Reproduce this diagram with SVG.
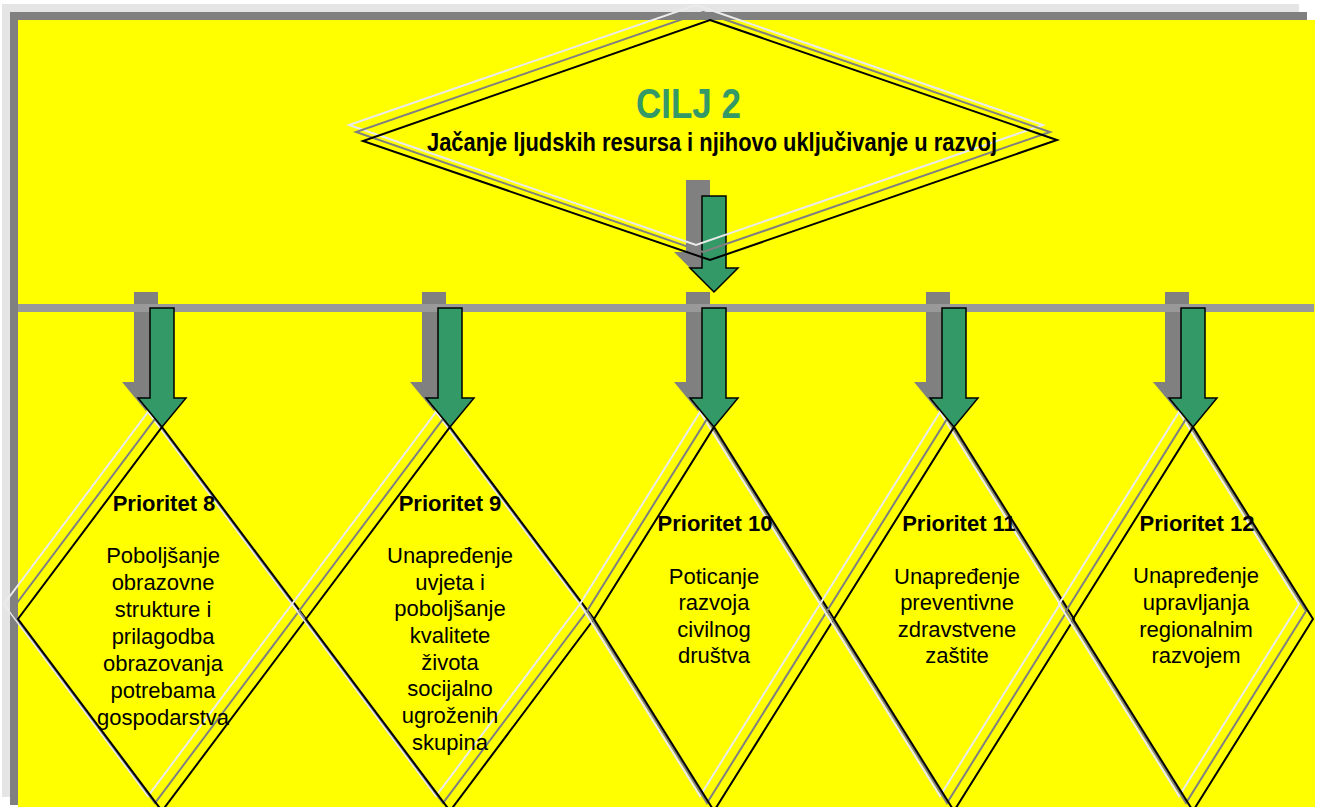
<svg xmlns="http://www.w3.org/2000/svg" width="1319" height="807" viewBox="0 0 1319 807">
<style>
.bk{fill:none;stroke:#000;stroke-width:2;stroke-linejoin:miter}
.gr{fill:none;stroke:#808080;stroke-width:2}
.wh{fill:none;stroke:#ebebeb;stroke-width:2}
.ga{fill:#339966;stroke:#000;stroke-width:1.5}
.sa{fill:#808080;stroke:none}
.hd{font-family:"Liberation Sans",Arial,sans-serif;font-weight:bold;font-size:22px;fill:#000;text-anchor:middle}
.bd{font-family:"Liberation Sans",Arial,sans-serif;font-size:22px;fill:#000;text-anchor:middle}
</style>
<rect x="0" y="0" width="1319" height="807" fill="#fff"/>
<rect x="2" y="4" width="1297" height="793" fill="#e5e5e5"/>
<rect x="10" y="12" width="1297" height="793" fill="#808080"/>
<rect x="18" y="20" width="1297" height="800" fill="#ffff00"/>

<g id="p8">
<polygon class="wh" points="148,412 292,604 148,796 4,604"/>
<polygon class="gr" points="155,419 299,611 155,803 11,611"/>
<polygon class="bk" points="162,427 306,619 162,811 18,619"/>
<text class="hd" x="164" y="511">Prioritet 8</text>
<text class="bd"><tspan x="163" y="563">Poboljšanje</tspan><tspan x="163" y="590">obrazovne</tspan><tspan x="163" y="617">strukture i</tspan><tspan x="163" y="644">prilagodba</tspan><tspan x="163" y="671">obrazovanja</tspan><tspan x="163" y="698">potrebama</tspan><tspan x="163" y="725">gospodarstva</tspan></text>
</g>
<g id="p9">
<polygon class="wh" points="436,412 580,604 436,796 292,604"/>
<polygon class="gr" points="443,419 587,611 443,803 299,611"/>
<polygon class="bk" points="450,427 594,619 450,811 306,619"/>
<text class="hd" x="450" y="511">Prioritet 9</text>
<text class="bd"><tspan x="450" y="563">Unapređenje</tspan><tspan x="450" y="590">uvjeta i</tspan><tspan x="450" y="616">poboljšanje</tspan><tspan x="450" y="643">kvalitete</tspan><tspan x="450" y="670">života</tspan><tspan x="450" y="696">socijalno</tspan><tspan x="450" y="723">ugroženih</tspan><tspan x="450" y="750">skupina</tspan></text>
</g>
<g id="p10">
<polygon class="wh" points="700,412 820,604 700,796 580,604"/>
<polygon class="gr" points="707,419 827,611 707,803 587,611"/>
<polygon class="bk" points="714,427 834,619 714,811 594,619"/>
<text class="hd" x="715" y="531">Prioritet 10</text>
<text class="bd"><tspan x="714" y="584">Poticanje</tspan><tspan x="714" y="610">razvoja</tspan><tspan x="714" y="637">civilnog</tspan><tspan x="714" y="663">društva</tspan></text>
</g>
<g id="p11">
<polygon class="wh" points="940,412 1060,604 940,796 820,604"/>
<polygon class="gr" points="947,419 1067,611 947,803 827,611"/>
<polygon class="bk" points="954,427 1074,619 954,811 834,619"/>
<text class="hd" x="959" y="531">Prioritet 11</text>
<text class="bd"><tspan x="957" y="584">Unapređenje</tspan><tspan x="957" y="610">preventivne</tspan><tspan x="957" y="637">zdravstvene</tspan><tspan x="957" y="663">zaštite</tspan></text>
</g>
<g id="p12">
<polygon class="wh" points="1179,412 1299,604 1179,796 1059,604"/>
<polygon class="gr" points="1186,419 1306,611 1186,803 1066,611"/>
<polygon class="bk" points="1193,427 1313,619 1193,811 1073,619"/>
<text class="hd" x="1197" y="531">Prioritet 12</text>
<text class="bd"><tspan x="1196" y="583">Unapređenje</tspan><tspan x="1196" y="610">upravljanja</tspan><tspan x="1196" y="637">regionalnim</tspan><tspan x="1196" y="663">razvojem</tspan></text>
</g>

<g id="connectors">
<polygon class="sa" points="686,180 710,180 710,252 722,252 698,276 674,252 686,252"/>
<polygon class="ga" points="702,196 726,196 726,268 738,268 714,292 690,268 702,268"/>
<polygon class="sa" points="134,292 158,292 158,382 170,382 146,411 122,382 134,382"/>
<polygon class="sa" points="422,292 446,292 446,382 458,382 434,411 410,382 422,382"/>
<polygon class="sa" points="686,292 710,292 710,382 722,382 698,411 674,382 686,382"/>
<polygon class="sa" points="926,292 950,292 950,382 962,382 938,411 914,382 926,382"/>
<polygon class="sa" points="1165,292 1189,292 1189,382 1201,382 1177,411 1153,382 1165,382"/>
<rect x="18" y="304" width="1296" height="8" fill="#999999"/>
<polygon class="ga" points="150,308 174,308 174,398 186,398 162,427 138,398 150,398"/>
<polygon class="ga" points="438,308 462,308 462,398 474,398 450,427 426,398 438,398"/>
<polygon class="ga" points="702,308 726,308 726,398 738,398 714,427 690,398 702,398"/>
<polygon class="ga" points="942,308 966,308 966,398 978,398 954,427 930,398 942,398"/>
<polygon class="ga" points="1181,308 1205,308 1205,398 1217,398 1193,427 1169,398 1181,398"/>
</g>

<g id="cilj2">
<polygon class="wh" points="696,5 1043,125 696,245 349,125"/>
<polygon class="gr" points="703,12 1050,132 703,252 356,132"/>
<polygon class="bk" points="710,20 1057,140 710,260 363,141"/>
<text x="636" y="118" font-family="'Liberation Sans',Arial,sans-serif" font-weight="bold" font-size="42" fill="#339966" textLength="105" lengthAdjust="spacingAndGlyphs">CILJ 2</text>
<text x="427" y="151" font-family="'Liberation Sans',Arial,sans-serif" font-weight="bold" font-size="26" fill="#000" textLength="570" lengthAdjust="spacingAndGlyphs">Jačanje ljudskih resursa i njihovo uključivanje u razvoj</text>
</g>
</svg>
